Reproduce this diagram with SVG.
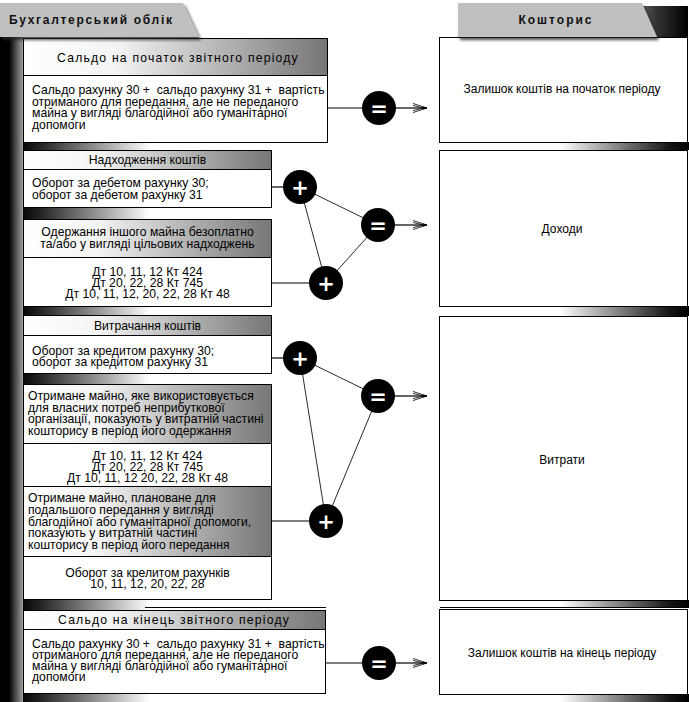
<svg xmlns="http://www.w3.org/2000/svg" width="689" height="702" viewBox="0 0 689 702">
<defs>
  <linearGradient id="band" x1="0" y1="0" x2="1" y2="0">
    <stop offset="0" stop-color="#000"/>
    <stop offset="0.4" stop-color="#000"/>
    <stop offset="1" stop-color="#a0a0a0"/>
  </linearGradient>
  <linearGradient id="stripL" x1="0" y1="0" x2="1" y2="0">
    <stop offset="0" stop-color="#080808"/>
    <stop offset="0.12" stop-color="#202020"/>
    <stop offset="1" stop-color="#fff"/>
  </linearGradient>
  <linearGradient id="stripR" x1="0" y1="0" x2="1" y2="0">
    <stop offset="0" stop-color="#fff"/>
    <stop offset="0.85" stop-color="#151515"/>
    <stop offset="1" stop-color="#000"/>
  </linearGradient>
  <linearGradient id="hdr" x1="0" y1="0" x2="1" y2="0">
    <stop offset="0" stop-color="#fff"/>
    <stop offset="0.3" stop-color="#f4f4f4"/>
    <stop offset="1" stop-color="#767676"/>
  </linearGradient>
  <linearGradient id="tabR" x1="0" y1="0" x2="1" y2="0">
    <stop offset="0" stop-color="#8a8a8a"/>
    <stop offset="0.5" stop-color="#333"/>
    <stop offset="1" stop-color="#000"/>
  </linearGradient>
  <filter id="sh" x="-10%" y="-30%" width="130%" height="180%">
    <feDropShadow dx="2" dy="3" stdDeviation="1.6" flood-color="#222" flood-opacity="0.8"/>
  </filter>
  <marker id="arr" viewBox="-15 -6 17 12" refX="0" refY="0" markerWidth="17" markerHeight="12" markerUnits="userSpaceOnUse" orient="auto">
    <path d="M-14,-4.5 L0,0 L-14,4.5 M-14,-2.5 L-3,0 L-14,2.5" fill="none" stroke="#000" stroke-width="0.8"/>
    <path d="M-4,-1.3 L0.5,0 L-4,1.3 Z" fill="#000"/>
  </marker>
  <style>
    .t { font-family: "Liberation Sans", Arial, sans-serif; font-size: 12.2px; fill: #000; white-space: pre; }
    .c { text-anchor: middle; }
    .sp { letter-spacing: 1.2px; }
    .tab { font-family: "Liberation Sans", Arial, sans-serif; font-size: 12px; font-weight: bold; fill: #111; }
    .rt { font-family: "Liberation Sans", Arial, sans-serif; font-size: 12px; fill: #000; text-anchor: middle; }
    .box { stroke: #000; stroke-width: 1; }
    .w { fill: #fff; }
    .h { fill: url(#hdr); }
    .circ { fill: #000; }
    .op { font-family: "DejaVu Sans", sans-serif; font-size: 21px; font-weight: bold; fill: #fff; text-anchor: middle; }
    .ln { stroke: #000; stroke-width: 1.2; fill: none; }
    .tri { stroke: #2a2a2a; stroke-width: 1; fill: none; }
    .sl { fill: url(#stripL); }
    .sr { fill: url(#stripR); }
  </style>
</defs>

<!-- background decorations -->
<g id="decor">
  <rect x="0" y="37" width="23" height="665" fill="url(#band)"/>
  <rect class="sl" x="23" y="142" width="127" height="9"/>
  <rect class="sl" x="23" y="207" width="127" height="12"/>
  <rect class="sl" x="23" y="306" width="127" height="10"/>
  <rect class="sl" x="23" y="373" width="127" height="11"/>
  <rect class="sl" x="23" y="600" width="127" height="10"/>
  <rect class="sl" x="23" y="693" width="127" height="9"/>
  <rect class="sr" x="560" y="142" width="129" height="8"/>
  <rect class="sr" x="560" y="306" width="129" height="10"/>
  <rect class="sr" x="560" y="600" width="129" height="8"/>
  <rect class="sr" x="560" y="694" width="129" height="8"/>
  <rect x="625" y="6" width="63" height="31" fill="url(#tabR)"/>
  <line x1="145" y1="607.5" x2="326" y2="607.5" stroke="#000" stroke-width="1"/>
  <line x1="440" y1="607.5" x2="688" y2="607.5" stroke="#000" stroke-width="1"/>
</g>

<!-- left blocks -->
<g id="saldo-start">
  <rect class="box h" x="23.5" y="38.5" width="304" height="37"/>
  <rect class="box w" x="23.5" y="75.5" width="304" height="67"/>
  <text class="t c sp" x="178" y="62">Сальдо на початок звітного періоду</text>
  <text class="t" x="32" y="94">Сальдо рахунку 30 +  сальдо рахунку 31 +  вартість</text>
  <text class="t" x="32" y="105.5">отриманого для передання, але не переданого</text>
  <text class="t" x="32" y="117">майна у вигляді благодійної або гуманітарної</text>
  <text class="t" x="32" y="128.5">допомоги</text>
</g>

<g id="nadkhodzhennia">
  <rect class="box h" x="23.5" y="150.5" width="248" height="19"/>
  <rect class="box w" x="23.5" y="169.5" width="248" height="38"/>
  <text class="t c" x="147.5" y="164">Надходження коштів</text>
  <text class="t" x="32" y="187">Оборот за дебетом рахунку 30;</text>
  <text class="t" x="32" y="198.5">оборот за дебетом рахунку 31</text>
</g>

<g id="oderzhannia">
  <rect class="box h" x="23.5" y="219.5" width="248" height="38"/>
  <rect class="box w" x="23.5" y="257.5" width="248" height="49"/>
  <text class="t c" x="147.5" y="236">Одержання іншого майна безоплатно</text>
  <text class="t c" x="147.5" y="248">та/або у вигляді цільових надходжень</text>
  <text class="t c" x="147.5" y="276">Дт 10, 11, 12 Кт 424</text>
  <text class="t c" x="147.5" y="287">Дт 20, 22, 28 Кт 745</text>
  <text class="t c" x="147.5" y="298">Дт 10, 11, 12, 20, 22, 28 Кт 48</text>
</g>

<g id="vytrachannia">
  <rect class="box h" x="23.5" y="315.5" width="248" height="20"/>
  <rect class="box w" x="23.5" y="335.5" width="248" height="38"/>
  <text class="t c" x="147.5" y="329.5">Витрачання коштів</text>
  <text class="t" x="32" y="354.5">Оборот за кредитом рахунку 30;</text>
  <text class="t" x="32" y="366">оборот за кредитом рахунку 31</text>
</g>

<g id="otrymane">
  <rect class="box h" x="23.5" y="384.5" width="248" height="59"/>
  <rect class="box w" x="23.5" y="443.5" width="248" height="43"/>
  <rect class="box h" x="23.5" y="486.5" width="248" height="70"/>
  <rect class="box w" x="23.5" y="556.5" width="248" height="43"/>
  <text class="t" x="28" y="400">Отримане майно, яке використовується</text>
  <text class="t" x="28" y="411.7">для власних потреб неприбуткової</text>
  <text class="t" x="28" y="423.4">організації, показують у витратній частині</text>
  <text class="t" x="28" y="435">кошторису в період його одержання</text>
  <text class="t c" x="147.5" y="459.5">Дт 10, 11, 12 Кт 424</text>
  <text class="t c" x="147.5" y="470.5">Дт 20, 22, 28 Кт 745</text>
  <text class="t c" x="147.5" y="481.5">Дт 10, 11, 12 20, 22, 28 Кт 48</text>
  <text class="t" x="28" y="502.3">Отримане майно, плановане для</text>
  <text class="t" x="28" y="514">подальшого передання у вигляді</text>
  <text class="t" x="28" y="525.7">благодійної або гуманітарної допомоги,</text>
  <text class="t" x="28" y="537.4">показують у витратній частині</text>
  <text class="t" x="28" y="549.1">кошторису в період його передання</text>
  <text class="t c" x="147.5" y="576.5">Оборот за крелитом рахунків</text>
  <text class="t c" x="147.5" y="587.5">10, 11, 12, 20, 22, 28</text>
</g>

<g id="saldo-end">
  <rect class="box h" x="23.5" y="610.5" width="302" height="19"/>
  <rect class="box w" x="23.5" y="629.5" width="302" height="64"/>
  <text class="t c sp" x="174" y="623.5">Сальдо на кінець звітного періоду</text>
  <text class="t" x="32" y="647.5">Сальдо рахунку 30 +  сальдо рахунку 31 +  вартість</text>
  <text class="t" x="32" y="658.5">отриманого для передання, але не переданого</text>
  <text class="t" x="32" y="669.5">майна у вигляді благодійної або гуманітарної</text>
  <text class="t" x="32" y="680.5">допомоги</text>
</g>

<!-- right boxes -->
<g id="zalyshok-start">
  <rect class="box w" x="439.5" y="37.5" width="248" height="105"/>
  <text class="rt" x="562" y="93">Залишок коштів на початок періоду</text>
</g>
<g id="dokhody">
  <rect class="box w" x="439.5" y="150.5" width="248" height="156"/>
  <text class="rt" x="562" y="233">Доходи</text>
</g>
<g id="vytraty">
  <rect class="box w" x="439.5" y="316.5" width="248" height="284"/>
  <text class="rt" x="562" y="464">Витрати</text>
</g>
<g id="zalyshok-end">
  <rect class="box w" x="439.5" y="609.5" width="248" height="85"/>
  <text class="rt" x="562" y="657">Залишок коштів на кінець періоду</text>
</g>

<!-- connectors -->
<g id="connectors">
  <line class="ln" x1="328" y1="108" x2="362" y2="108"/>
  <line class="ln" x1="396" y1="108" x2="427" y2="108" marker-end="url(#arr)"/>

  <line class="ln" x1="272" y1="187" x2="283" y2="187"/>
  <line class="ln" x1="272" y1="283" x2="310" y2="283"/>
  <line class="tri" x1="300" y1="187" x2="378" y2="225"/>
  <line class="tri" x1="300" y1="187" x2="326" y2="283"/>
  <line class="tri" x1="326" y1="283" x2="378" y2="225"/>
  <line class="ln" x1="395" y1="225" x2="427" y2="225" marker-end="url(#arr)"/>

  <line class="ln" x1="272" y1="358" x2="283" y2="358"/>
  <line class="ln" x1="272" y1="521" x2="310" y2="521"/>
  <line class="tri" x1="300" y1="358" x2="378" y2="396"/>
  <line class="tri" x1="300" y1="358" x2="326" y2="521"/>
  <line class="tri" x1="326" y1="521" x2="378" y2="396"/>
  <line class="ln" x1="395" y1="396" x2="427" y2="396" marker-end="url(#arr)"/>

  <line class="ln" x1="326" y1="663" x2="362" y2="663"/>
  <line class="ln" x1="396" y1="663" x2="427" y2="663" marker-end="url(#arr)"/>
</g>

<!-- operators -->
<g id="op-eq1"><circle class="circ" cx="379" cy="108" r="17"/><text class="op" x="379" y="115.5">=</text></g>
<g id="op-plus1"><circle class="circ" cx="300" cy="187" r="17"/><text class="op" x="300" y="194.5">+</text></g>
<g id="op-plus2"><circle class="circ" cx="326" cy="283" r="17"/><text class="op" x="326" y="290.5">+</text></g>
<g id="op-eq2"><circle class="circ" cx="378" cy="225" r="17"/><text class="op" x="378" y="232.5">=</text></g>
<g id="op-plus3"><circle class="circ" cx="300" cy="358" r="17"/><text class="op" x="300" y="365.5">+</text></g>
<g id="op-eq3"><circle class="circ" cx="378" cy="396" r="17"/><text class="op" x="378" y="403.5">=</text></g>
<g id="op-plus4"><circle class="circ" cx="326" cy="521" r="17"/><text class="op" x="326" y="528.5">+</text></g>
<g id="op-eq4"><circle class="circ" cx="379" cy="663" r="17"/><text class="op" x="379" y="670.5">=</text></g>

<!-- header tabs -->
<g id="tab-left">
  <polygon points="0,3 183,3 199,37 0,37" fill="#c0c0c0" filter="url(#sh)"/>
  <text class="tab" x="9" y="24" style="letter-spacing:1.7px">Бухгалтерський облік</text>
</g>
<g id="tab-right">
  <polygon points="458,3 642,3 657,37 458,37" fill="#c0c0c0" filter="url(#sh)"/>
  <text class="tab" x="556" y="24" text-anchor="middle" style="letter-spacing:2px">Кошторис</text>
</g>
</svg>
